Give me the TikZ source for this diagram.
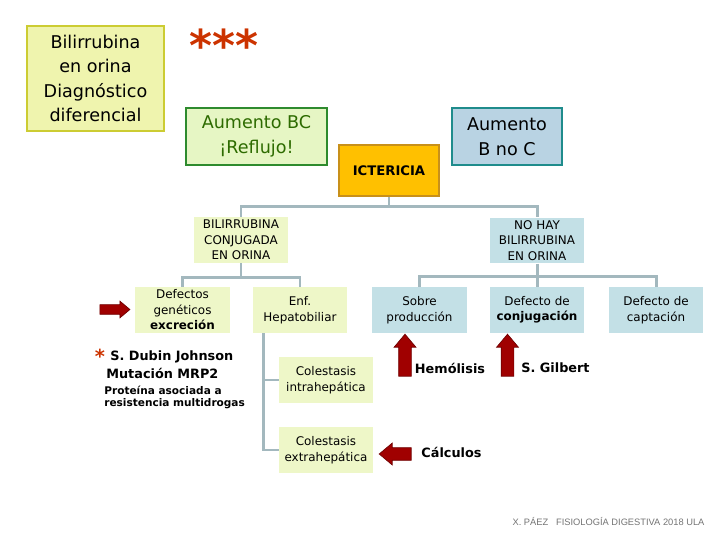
\documentclass[tikz,border=0pt]{standalone}
\usepackage{fontspec}
\setmainfont{DejaVu Sans}
\newfontfamily\piefont{Liberation Sans}
\usepackage{tikz}
\usetikzlibrary{shapes.arrows}
\definecolor{amarillo100}{HTML}{EFF4AE}
\definecolor{amarillo500}{HTML}{CCCC33}
\definecolor{verde100}{HTML}{E6F6C4}
\definecolor{verde500}{HTML}{2E8B2E}
\definecolor{verde900}{HTML}{2D6B00}
\definecolor{naranja500}{HTML}{FFC000}
\definecolor{naranja700}{HTML}{C8901A}
\definecolor{azul200}{HTML}{B9D3E3}
\definecolor{azul700}{HTML}{1F8C8C}
\definecolor{crema}{HTML}{EEF7C8}
\definecolor{celeste}{HTML}{C3E0E6}
\definecolor{gris300}{HTML}{A3B8BE}
\definecolor{rojo800}{HTML}{A00000}
\definecolor{rojo600}{HTML}{CC3300}
\tikzstyle{titulo}=[rectangle, draw=amarillo500, fill=amarillo100, line width=1.5pt, minimum width=2.74cm, minimum height=2.1cm, align=center, font=\fontsize{10}{14}\selectfont]
\tikzstyle{cabeza}=[rectangle, line width=1.5pt, minimum height=1.14cm, align=center, font=\fontsize{10}{14}\selectfont]
\tikzstyle{hoja}=[rectangle, minimum width=1.9cm, minimum height=0.92cm, inner sep=0pt, align=center, font=\fontsize{6.8}{8.8}\selectfont]
\tikzstyle{rama}=[draw=gris300, line width=1.7pt]
\tikzstyle{flecha}=[single arrow, draw=rojo800!70!black, fill=rojo800, single arrow tip angle=80]
\tikzstyle{nota}=[font=\fontsize{7.3}{9}\selectfont\bfseries, inner sep=0pt]

\begin{document}
\begin{tikzpicture}[x=0.02cm, y=-0.02cm]
	\useasboundingbox (0,0) rectangle (720,540);
	% cabecera
	\node[titulo] (diag) at (95.5,78.5){Bilirrubina\\en orina\\Diagnóstico\\diferencial};
	\node[text=rojo600, font=\fontsize{25}{25}\selectfont\bfseries] (estrellas) at (224,45){***};
	\node[cabeza, draw=verde500, fill=verde100, text=verde900, minimum width=2.82cm] (aumBC) at (256.5,136.5){Aumento BC\\¡Reflujo!};
	\node[cabeza, draw=naranja700, fill=naranja500, minimum width=2cm, minimum height=1.02cm, font=\fontsize{7.5}{9}\selectfont\bfseries] (icter) at (389,170.5){ICTERICIA};
	\node[cabeza, draw=azul700, fill=azul200, minimum width=2.2cm] (aumBnoC) at (507,136.5){Aumento\\B no C};
	% segundo nivel
	\node[hoja, fill=crema, minimum width=1.88cm] (conj) at (241,240){BILIRRUBINA\\CONJUGADA\\EN ORINA};
	\node[hoja, fill=celeste, minimum width=1.88cm] (nohay) at (537,240.5){NO HAY\\BILIRRUBINA\\EN ORINA};
	% tercer nivel
	\node[hoja, fill=crema] (defgen) at (182.5,310){Defectos\\genéticos\\\textbf{excreción}};
	\node[hoja, fill=crema] (enf) at (300,310){Enf.\\Hepatobiliar};
	\node[hoja, fill=celeste] (sobre) at (419.5,310){Sobre\\producción};
	\node[hoja, fill=celeste] (defconj) at (537,310){Defecto de\\\textbf{conjugación}};
	\node[hoja, fill=celeste] (defcapt) at (656,310){Defecto de\\captación};
	\node[hoja, fill=crema, minimum width=1.88cm] (intra) at (326,380){Colestasis\\intrahepática};
	\node[hoja, fill=crema, minimum width=1.88cm] (extra) at (326,450){Colestasis\\extrahepática};
	% ramas
	\path[rama] (icter.south) -- ++(0,9) -| (conj.north);
	\path[rama] (icter.south) -- ++(0,9) -| (nohay.north);
	\path[rama] (conj.south) -- ++(0,14) -| (defgen.north);
	\path[rama] (conj.south) -- ++(0,14) -| (enf.north);
	\path[rama] (nohay.south) -- ++(0,13) -| (sobre.north);
	\path[rama] (nohay.south) -- ++(0,13) -| (defconj.north);
	\path[rama] (nohay.south) -- ++(0,13) -| (defcapt.north);
	\path[rama] ([xshift=0.22cm]enf.south west) |- (intra.west);
	\path[rama] ([xshift=0.22cm]enf.south west) |- (extra.west);
	% flechas
	\node[flecha, inner sep=0.09cm, single arrow head extend=0.07cm, minimum height=0.6cm] (flechaDef) at (112,309.5){};
	\node[flecha, shape border rotate=90, inner sep=0.12cm, single arrow head extend=0.09cm, minimum height=0.84cm] (flechaHem) at (405,359){};
	\node[flecha, shape border rotate=90, inner sep=0.12cm, single arrow head extend=0.09cm, minimum height=0.84cm] (flechaGil) at (507.5,359){};
	\node[flecha, shape border rotate=180, inner sep=0.12cm, single arrow head extend=0.09cm, minimum height=0.64cm] (flechaCal) at (399,454){};
	\node[nota] (hemol) at (450,368){Hemólisis};
	\node[nota] (gilbert) at (555.5,368){S. Gilbert};
	\node[nota] (calculos) at (451.5,452){Cálculos};
	% Dubin Johnson
	\node[text=rojo600, font=\fontsize{11}{11}\selectfont\bfseries, inner sep=0pt] (ast) at (100,356){*};
	\node[nota, anchor=west] (dubin) at (110,357){S. Dubin Johnson};
	\node[nota, anchor=west] (mrp) at (106,373){Mutación MRP2};
	\node[nota, anchor=west, font=\fontsize{6}{7}\selectfont\bfseries] (prot) at (104,390){Proteína asociada a};
	\node[nota, anchor=west, font=\fontsize{6}{7}\selectfont\bfseries] (resist) at (104,404){resistencia multidrogas};
	% pie
	\node[text=black!55, font=\piefont\fontsize{5.3}{6}\selectfont, inner sep=0pt] (pie) at (608.5,522){X. PÁEZ\ \ \ FISIOLOGÍA DIGESTIVA 2018 ULA};
\end{tikzpicture}
\end{document}
